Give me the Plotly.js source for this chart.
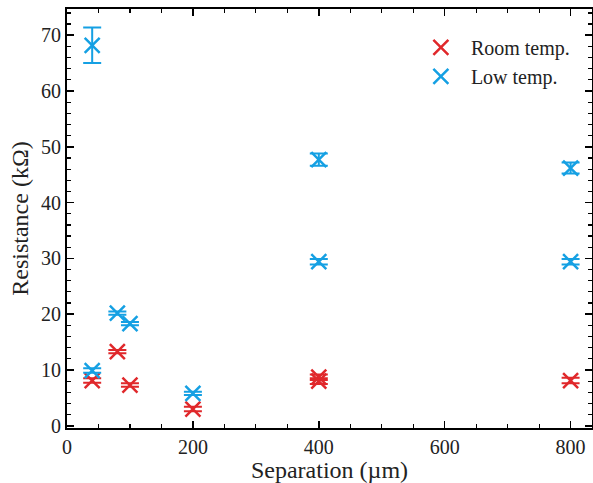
<!DOCTYPE html>
<html>
<head>
<meta charset="utf-8">
<script src="https://cdn.plot.ly/plotly-3.0.1.min.js"></script>
<style>
  html, body { margin: 0; padding: 0; background: #fff; }
  #chart { width: 593px; height: 483px; }
</style>
</head>
<body>
<div id="chart"></div>
<script>
// Separation (µm) and resistance (kΩ) with uncertainty
const roomSep = [40, 80, 100, 200, 400, 400, 800];
const roomRes = [8.1, 13.3, 7.3, 3.0, 8.7, 8.0, 8.1];
const roomErr = [0.4, 0.3, 0.3, 0.4, 0.5, 0.5, 0.5];

const lowSep = [40, 40, 80, 100, 200, 400, 400, 800, 800];
const lowRes = [68.2, 9.9, 20.2, 18.3, 5.8, 47.7, 29.4, 46.2, 29.4];
const lowErr = [3.2, 0.4, 0.3, 0.3, 0.3, 1.1, 0.5, 1.0, 0.5];

const red = '#e0282b';
const blue = '#15a0e3';
const serif = 'Liberation Serif';

function series(name, x, y, err, color) {
  return {
    type: 'scatter', mode: 'markers', name: name,
    x: x, y: y,
    error_y: { type: 'data', array: err, visible: true, color: color, thickness: 2, width: 9 },
    marker: { symbol: 'x-thin', size: 15, color: color, line: { color: color, width: 2.5 } }
  };
}

const data = [
  series('Room temp.', roomSep, roomRes, roomErr, red),
  series('Low temp.', lowSep, lowRes, lowErr, blue)
];

const axisCommon = {
  showgrid: false, zeroline: false,
  showline: true, linecolor: '#000', linewidth: 2,
  mirror: 'allticks', ticks: 'inside', ticklen: 7, tickwidth: 1.5, tickcolor: '#000',
  tickfont: { family: serif, size: 20, color: '#222' }
};

const layout = {
  width: 593, height: 483,
  margin: { l: 67, r: 1, t: 9, b: 55 },
  paper_bgcolor: '#fff', plot_bgcolor: '#fff',
  font: { family: serif, color: '#222' },
  showlegend: true,
  legend: {
    x: 0.655, y: 0.955, xanchor: 'left', yanchor: 'top',
    bgcolor: 'rgba(0,0,0,0)', borderwidth: 0,
    font: { family: serif, size: 20, color: '#222' },
    itemwidth: 50,
    tracegroupgap: 0
  },
  xaxis: Object.assign({}, axisCommon, {
    range: [0, 834], dtick: 200, tick0: 0,
    minor: { dtick: 50, ticks: 'inside', ticklen: 4, tickwidth: 1.2, tickcolor: '#000' },
    title: { text: 'Separation (µm)', font: { family: serif, size: 24, color: '#222' }, standoff: 4 }
  }),
  yaxis: Object.assign({}, axisCommon, {
    range: [-0.4, 74.7], dtick: 10, tick0: 0,
    minor: { dtick: 2, ticks: 'inside', ticklen: 4, tickwidth: 1.2, tickcolor: '#000' },
    title: { text: 'Resistance (kΩ)', font: { family: serif, size: 24, color: '#222' }, standoff: 6 }
  })
};

Plotly.newPlot('chart', data, layout, { displayModeBar: false, staticPlot: true });
</script>
</body>
</html>
